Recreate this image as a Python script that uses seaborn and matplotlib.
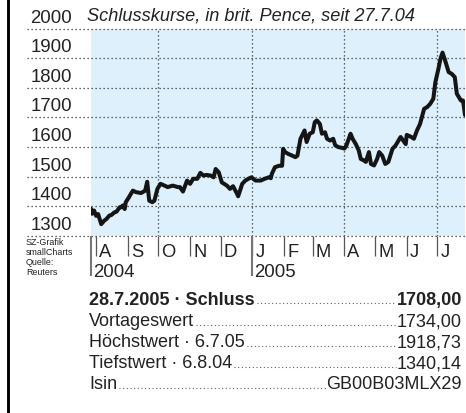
import matplotlib
matplotlib.use("Agg")
import matplotlib.pyplot as plt
import matplotlib.dates as mdates
from matplotlib.lines import Line2D
from matplotlib.transforms import IdentityTransform
import pandas as pd
import seaborn as sns

# closing prices, brit. pence
dates = [
    "2004-07-27", "2004-07-28", "2004-07-30", "2004-08-01", "2004-08-03", "2004-08-06",
    "2004-08-09", "2004-08-11", "2004-08-14", "2004-08-16", "2004-08-19", "2004-08-21",
    "2004-08-24", "2004-08-26", "2004-08-27", "2004-08-29", "2004-08-30", "2004-09-02",
    "2004-09-04", "2004-09-06", "2004-09-09", "2004-09-14", "2004-09-18", "2004-09-20",
    "2004-09-22", "2004-09-25", "2004-09-27", "2004-09-30", "2004-10-03", "2004-10-07",
    "2004-10-10", "2004-10-15", "2004-10-20", "2004-10-22", "2004-10-25", "2004-10-29",
    "2004-11-01", "2004-11-04", "2004-11-08", "2004-11-11", "2004-11-14", "2004-11-17",
    "2004-11-21", "2004-11-24", "2004-11-26", "2004-11-29", "2004-12-02", "2004-12-07",
    "2004-12-10", "2004-12-13", "2004-12-17", "2004-12-18", "2004-12-22", "2004-12-25",
    "2004-12-28", "2004-12-31", "2005-01-04", "2005-01-09", "2005-01-13", "2005-01-17",
    "2005-01-19", "2005-01-20", "2005-01-23", "2005-01-27", "2005-01-30", "2005-01-31",
    "2005-02-02", "2005-02-05", "2005-02-09", "2005-02-12", "2005-02-14", "2005-02-17",
    "2005-02-21", "2005-02-23", "2005-02-26", "2005-03-01", "2005-03-03", "2005-03-05",
    "2005-03-08", "2005-03-10", "2005-03-13", "2005-03-15", "2005-03-18", "2005-03-21",
    "2005-03-23", "2005-03-26", "2005-03-30", "2005-04-01", "2005-04-03", "2005-04-07",
    "2005-04-09", "2005-04-12", "2005-04-15", "2005-04-17", "2005-04-20", "2005-04-22",
    "2005-04-25", "2005-04-27", "2005-04-30", "2005-05-03", "2005-05-05", "2005-05-08",
    "2005-05-11", "2005-05-14", "2005-05-18", "2005-05-21", "2005-05-24", "2005-05-26",
    "2005-05-31", "2005-06-01", "2005-06-05", "2005-06-08", "2005-06-11", "2005-06-14",
    "2005-06-18", "2005-06-21", "2005-06-24", "2005-06-27", "2005-06-29", "2005-07-02",
    "2005-07-04", "2005-07-06", "2005-07-09", "2005-07-12", "2005-07-15", "2005-07-18",
    "2005-07-20", "2005-07-24", "2005-07-26", "2005-07-27", "2005-07-28",
]
closes = [
    1392, 1375, 1386, 1368, 1374, 1340,
    1352, 1357, 1369, 1371, 1380, 1382,
    1397, 1397, 1403, 1391, 1414, 1430,
    1442, 1453, 1448, 1445, 1453, 1483,
    1419, 1414, 1419, 1459, 1476, 1470,
    1465, 1470, 1465, 1465, 1450, 1487,
    1476, 1493, 1493, 1513, 1504, 1506,
    1504, 1498, 1526, 1515, 1481, 1470,
    1459, 1468, 1442, 1434, 1476, 1487,
    1493, 1498, 1487, 1487, 1493, 1498,
    1495, 1510, 1532, 1537, 1537, 1594,
    1583, 1577, 1571, 1566, 1571, 1628,
    1656, 1617, 1645, 1650, 1684, 1690,
    1678, 1645, 1650, 1628, 1622, 1628,
    1606, 1600, 1597, 1595, 1606, 1645,
    1628, 1611, 1589, 1560, 1555, 1550,
    1583, 1543, 1538, 1560, 1583, 1571,
    1543, 1550, 1594, 1605, 1622, 1634,
    1610, 1641, 1635, 1628, 1656, 1678,
    1729, 1735, 1746, 1763, 1819, 1864,
    1898, 1918.73, 1887, 1853, 1847, 1836,
    1780, 1757, 1757, 1734, 1708,
]

y_ticks = [1300, 1400, 1500, 1600, 1700, 1800, 1900, 2000]
month_starts = ["2004-08-01", "2004-09-01", "2004-10-01", "2004-11-01", "2004-12-01",
                "2005-01-01", "2005-02-01", "2005-03-01", "2005-04-01", "2005-05-01",
                "2005-06-01", "2005-07-01"]
month_labels = ["A", "S", "O", "N", "D", "J", "F", "M", "A", "M", "J", "J"]
grid_dates = ["2004-10-01", "2005-01-01", "2005-04-01", "2005-07-01"]
year_starts = ["2004-07-27", "2005-01-01"]
year_labels = ["2004", "2005"]
source_lines = ["SZ-Grafik", "smallCharts", "Quelle:", "Reuters"]
table_labels = ["28.7.2005 · Schluss", "Vortageswert", "Höchstwert · 6.7.05",
                "Tiefstwert · 6.8.04", "Isin"]
table_values = ["1708,00", "1734,00", "1918,73", "1340,14", "GB00B03MLX29"]
title = "Schlusskurse, in brit. Pence, seit 27.7.04"

W, H = 466, 414
TXT = "#222222"

sns.set_style("white")
plt.rcParams["font.family"] = ["Liberation Sans", "DejaVu Sans"]

df = pd.DataFrame({"date": pd.to_datetime(dates), "close": closes})

fig = plt.figure(figsize=(W / 100, H / 100), dpi=100)
# plot area: x 91..465 px, y 29.5..237 px
ax = fig.add_axes([91 / W, 1 - 237 / H, 374 / W, 207.5 / H])
ax.set_facecolor("#ddf0fb")
for s in ax.spines.values():
    s.set_visible(False)

sns.lineplot(data=df, x="date", y="close", ax=ax, color="#151515", linewidth=2.9,
             solid_joinstyle="round", zorder=5)
ax.set_xlim(pd.Timestamp("2004-07-27"), pd.Timestamp("2005-07-28"))
ax.set_ylim(1300, 2000)
ax.set_xticks([])
ax.set_yticks([])
ax.set_xlabel("")
ax.set_ylabel("")

dots = dict(color="#333333", linewidth=0.9, linestyle=(0, (1, 2.2)))
# horizontal grid, reaching left under the labels
ax.hlines(y_ticks, -64 / 374, 1, transform=ax.get_yaxis_transform(), clip_on=False, **dots)
ax.vlines([mdates.date2num(pd.Timestamp(d)) for d in grid_dates], 0, 1,
          transform=ax.get_xaxis_transform(), **dots)

for v in y_ticks:
    ax.annotate(str(v), xy=(0, v), xycoords=("axes fraction", "data"),
                xytext=(-19, 7), textcoords="offset pixels", ha="right", va="baseline",
                fontsize=13.4, color=TXT)

ax.annotate(title, xy=(0, 2000), xycoords=("axes fraction", "data"),
            xytext=(-4, 9), textcoords="offset pixels", ha="left", va="baseline",
            fontsize=13.1, style="italic", color=TXT)

# month ticks and labels under the plot
xt = ax.get_xaxis_transform()
for d, lab in zip(month_starts, month_labels):
    xn = mdates.date2num(pd.Timestamp(d))
    ax.vlines(xn, -20 / 207.5, 0, transform=xt, clip_on=False, color="#555555", linewidth=0.9)
    ax.annotate(lab, xy=(xn, 0), xycoords=xt, xytext=(3, -20), textcoords="offset pixels",
                ha="left", va="baseline", fontsize=13.2, color=TXT)
for d, lab in zip(year_starts, year_labels):
    xn = mdates.date2num(pd.Timestamp(d))
    ax.vlines(xn, -40 / 207.5, 0, transform=xt, clip_on=False, color="#777777", linewidth=1.5)
    ax.annotate(lab, xy=(xn, 0), xycoords=xt, xytext=(2, -40), textcoords="offset pixels",
                ha="left", va="baseline", fontsize=13.4, color=TXT)

for i, line in enumerate(source_lines):
    fig.text(26 / W, 1 - (245.5 + 10 * i) / H, line, ha="left", va="baseline",
             fontsize=6.4, color=TXT)

# left black rule
fig.add_artist(Line2D([8 / W, 8 / W], [0, 1], transform=fig.transFigure,
                      color="black", linewidth=2.1))

# key figures table with dotted leaders
baselines = [305, 326.5, 347.5, 368.5, 389.5]
rows = []
for i, (lab, val) in enumerate(zip(table_labels, table_values)):
    y = 1 - baselines[i] / H
    weight = "bold" if i == 0 else "normal"
    t1 = fig.text(89 / W, y, lab, ha="left", va="baseline", fontsize=13,
                  weight=weight, color=TXT)
    t2 = fig.text(462 / W, y, val, ha="right", va="baseline", fontsize=13,
                  weight=weight, color=TXT)
    rows.append((t1, t2, baselines[i]))

fig.canvas.draw()
r = fig.canvas.get_renderer()
for t1, t2, b in rows:
    x0 = t1.get_window_extent(r).x1 + 2
    x1 = t2.get_window_extent(r).x0 - 1
    yd = H - b + 1
    fig.add_artist(Line2D([x0, x1], [yd, yd], transform=IdentityTransform(),
                          color="#555555", linewidth=0.8, linestyle=(0, (0.9, 2.4))))

fig.savefig("out.png", dpi=100)
